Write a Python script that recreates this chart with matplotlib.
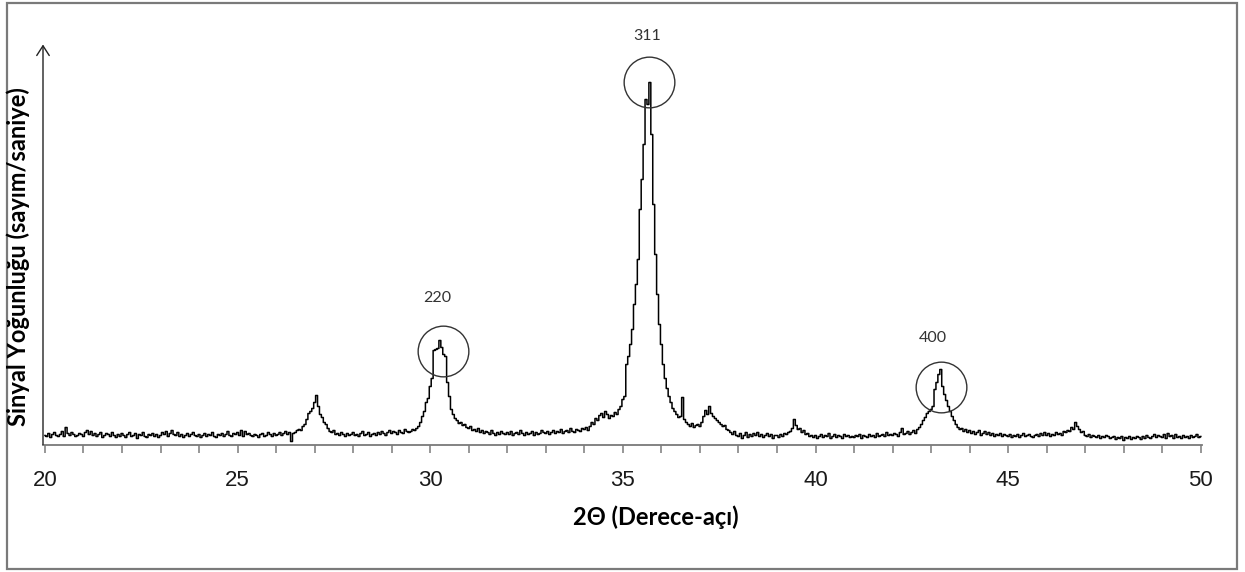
import numpy as np
import matplotlib
matplotlib.use('Agg')
from matplotlib import pyplot as plt
from matplotlib.patches import Rectangle

# barrido 2θ de 20° a 50° con paso de 0.05°
paso = 0.05
inicio, fin = 20.0, 50.0

# cuentas leídas por grado (20 puntos por fila)
cuentas = [
    9, 8, 11, 7, 10, 12, 9, 8, 10, 13, 8, 17, 11, 9, 12, 10, 8, 9, 11, 10,            # 20
    8, 12, 14, 10, 13, 9, 11, 8, 10, 12, 7, 9, 11, 10, 8, 12, 9, 7, 10, 8,             # 21
    11, 9, 7, 10, 12, 8, 9, 11, 6, 10, 9, 12, 8, 7, 10, 9, 11, 8, 10, 7,               # 22
    9, 12, 10, 13, 8, 11, 14, 10, 9, 12, 8, 10, 7, 9, 11, 8, 10, 12, 9, 8,             # 23
    10, 7, 9, 11, 8, 10, 9, 12, 8, 7, 10, 9, 11, 8, 10, 13, 9, 8, 11, 10,              # 24
    12, 9, 14, 8, 13, 10, 11, 9, 8, 10, 9, 7, 10, 11, 8, 9, 12, 10, 8, 11,             # 25
    9, 10, 12, 9, 11, 13, 10, 12, 3, 11, 12, 14, 15, 14, 18, 20, 25, 31, 33, 36,       # 26
    42, 49, 38, 30, 27, 22, 20, 16, 13, 12, 14, 10, 11, 9, 12, 10, 8, 11, 9, 10,       # 27
    12, 9, 10, 8, 11, 13, 9, 10, 12, 8, 10, 11, 9, 12, 10, 13, 11, 9, 12, 14,          # 28
    11, 13, 12, 10, 14, 12, 11, 15, 13, 12, 13, 15, 14, 16, 18, 22, 28, 33, 42, 46,    # 29
    58, 66, 94, 95, 96, 104, 97, 90, 88, 62, 48, 35, 30, 26, 24, 21, 22, 19, 20, 17,   # 30
    16, 18, 14, 15, 13, 16, 12, 14, 11, 13, 12, 10, 14, 11, 9, 12, 10, 13, 11, 10,     # 31
    12, 10, 13, 9, 11, 12, 10, 14, 11, 9, 12, 10, 11, 13, 9, 12, 10, 11, 14, 12,       # 32
    11, 13, 10, 12, 14, 11, 13, 12, 15, 11, 13, 14, 12, 16, 13, 12, 15, 14, 13, 16,    # 33
    15, 17, 14, 18, 22, 20, 26, 24, 29, 31, 27, 33, 30, 26, 29, 28, 32, 30, 35, 38,    # 34
    45, 48, 80, 88, 100, 115, 140, 160, 185, 235, 265, 300, 345, 340, 362, 310, 240, 190, 150, 120,  # 35
    100, 80, 66, 56, 48, 42, 36, 33, 30, 27, 28, 47, 25, 22, 20, 18, 21, 17, 19, 20,   # 36
    18, 22, 28, 34, 30, 38, 31, 28, 26, 24, 22, 20, 18, 19, 15, 14, 12, 10, 13, 9,     # 37
    8, 11, 6, 9, 12, 7, 10, 8, 11, 9, 12, 8, 10, 7, 9, 11, 8, 10, 6, 9,                # 38
    9, 7, 10, 8, 11, 10, 12, 13, 16, 25, 19, 15, 16, 12, 14, 10, 11, 8, 9, 7,          # 39
    9, 6, 8, 10, 7, 9, 8, 11, 6, 8, 10, 7, 9, 8, 6, 10, 8, 9, 7, 8,                    # 40
    7, 9, 8, 10, 6, 9, 8, 7, 10, 8, 9, 7, 11, 8, 9, 10, 8, 12, 9, 10,                  # 41
    9, 11, 10, 8, 12, 16, 10, 11, 13, 10, 12, 14, 11, 15, 17, 20, 24, 27, 31, 33,      # 42
    35, 38, 55, 62, 70, 75, 58, 50, 44, 38, 33, 28, 24, 20, 17, 15, 16, 13, 15, 12,    # 43
    14, 11, 13, 10, 12, 14, 9, 11, 13, 10, 12, 9, 11, 8, 10, 9, 11, 8, 10, 9,          # 44
    8, 10, 7, 9, 8, 10, 7, 9, 11, 8, 9, 10, 8, 7, 9, 10, 8, 11, 9, 12,                 # 45
    9, 11, 8, 10, 9, 12, 10, 11, 9, 13, 12, 14, 13, 17, 15, 22, 18, 15, 12, 13,        # 46
    9, 8, 10, 7, 9, 8, 7, 9, 6, 8, 7, 9, 8, 6, 7, 8, 5, 7, 6, 8,                       # 47
    4, 7, 6, 8, 5, 7, 6, 8, 7, 5, 8, 6, 9, 7, 6, 8, 10, 7, 9, 8,                       # 48
    7, 10, 6, 11, 8, 9, 6, 10, 7, 8, 6, 9, 7, 8, 6, 9, 7, 8, 10, 7,                    # 49
    8,                                                                                  # 50
]
dos_theta = inicio + paso * np.arange(len(cuentas))

# picos indexados (hkl), centro del círculo y posición de la etiqueta
picos_hkl = ['220', '311', '400']
picos_x = [30.34, 35.69, 43.25]
picos_y = [94, 363, 58]
etiquetas_x = [30.17, 35.62, 43.05]
etiquetas_y = [146, 408, 106]

ticks_mayores = [20, 25, 30, 35, 40, 45, 50]

fig = plt.figure(figsize=(12.45, 5.72), dpi=100)
fig.patch.set_facecolor('white')

# marco exterior
marco = Rectangle((7 / 1245, 3 / 572), 1230 / 1245, 566 / 572, transform=fig.transFigure,
                  fill=False, edgecolor='#7a7a7a', linewidth=1.6)
fig.patches.append(marco)

ax = fig.add_axes([43 / 1245, 127.5 / 572, 1159 / 1245, 400 / 572])
ax.set_xlim(19.95, 50.03)
ax.set_ylim(0, 400)

ax.plot(dos_theta, cuentas, color='black', linewidth=1.1, drawstyle='steps-mid')

# círculos sobre los picos principales
ax.plot(picos_x, picos_y, linestyle='none', marker='o', markersize=36.5,
        markerfacecolor='none', markeredgecolor='#333333', markeredgewidth=1.0, clip_on=False)
for txt, xe, ye in zip(picos_hkl, etiquetas_x, etiquetas_y):
    ax.text(xe, ye, txt, ha='center', va='center', fontsize=11.5, color='#333333',
            family=['Lato', 'DejaVu Sans'], clip_on=False)

for lado in ['top', 'right', 'left']:
    ax.spines[lado].set_visible(False)
ax.spines['bottom'].set_color('#7a7a7a')
ax.spines['bottom'].set_linewidth(1.3)

# eje y con flecha
ax.annotate('', xy=(0, 1), xytext=(0, 0), xycoords='axes fraction',
            arrowprops=dict(arrowstyle='->,head_length=0.7,head_width=0.45', lw=1.0,
                            color='#222222', shrinkA=0, shrinkB=0))

ax.set_yticks([])
ax.set_xticks(ticks_mayores)
ax.set_xticks(np.arange(21, 50), minor=True)
ax.tick_params(axis='x', which='both', direction='out', length=5.5, width=1.1, color='#7a7a7a',
               labelsize=16, labelcolor='#1a1a1a', pad=12.5)
for lbl in ax.get_xticklabels():
    lbl.set_family(['Liberation Sans', 'DejaVu Sans'])

fig.text(18 / 1245, 1 - 257 / 572, 'Sinyal Yoğunluğu (sayım/saniye)', rotation=90,
         ha='center', va='center', fontsize=17, fontweight='bold', family=['Lato', 'DejaVu Sans'])
fig.text(656 / 1245, 1 - 517 / 572, '2Θ (Derece-açı)', ha='center', va='center',
         fontsize=17, fontweight='bold', family=['Lato', 'DejaVu Sans'])

fig.savefig('out.png', dpi=100, facecolor='white')
